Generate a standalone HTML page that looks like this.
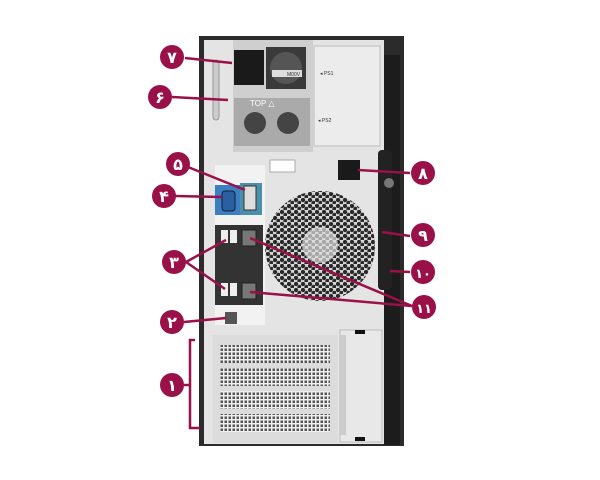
<!DOCTYPE html>
<html><head><meta charset="utf-8"><style>
html,body{margin:0;padding:0;background:#fff;width:600px;height:480px;overflow:hidden}
svg{display:block}
.b{fill:#9a1048}
.t{fill:#fff;font-family:"Liberation Sans","DejaVu Sans",sans-serif;font-weight:bold;font-size:16px;text-anchor:middle}
.l{stroke:#9a1048;stroke-width:2.5;fill:none}
.s{font-family:"Liberation Sans",sans-serif;font-size:5px;fill:#333}
</style></head><body>
<svg width="600" height="480" viewBox="0 0 600 480">
<defs>
<pattern id="hex" width="7" height="6" patternUnits="userSpaceOnUse">
<rect width="7" height="6" fill="#d8d8d8"/>
<circle cx="2" cy="2" r="2.2" fill="#2a2a2a"/>
<circle cx="5.5" cy="5" r="2.2" fill="#2a2a2a"/>
</pattern>
<pattern id="grid" width="4" height="4" patternUnits="userSpaceOnUse">
<rect width="4" height="4" fill="#eee"/>
<rect x="0.5" y="0.5" width="2.5" height="2.5" fill="#555"/>
</pattern>
</defs>
<!-- chassis -->
<rect x="199" y="36" width="205" height="410" fill="#2b2b2b"/>
<rect x="204" y="40" width="180" height="404" fill="#e4e4e4"/>
<rect x="384" y="55" width="16" height="390" fill="#1c1c1c"/>
<rect x="378" y="150" width="14" height="140" rx="4" fill="#222"/>
<circle cx="389" cy="183" r="5" fill="#777"/>
<!-- PSU area -->
<rect x="233" y="40" width="80" height="112" fill="#cfcfcf"/>
<rect x="314" y="46" width="66" height="100" fill="#ececec" stroke="#bbb"/>
<rect x="234" y="50" width="30" height="35" fill="#1a1a1a"/>
<rect x="266" y="47" width="40" height="42" fill="#3a3a3a"/>
<circle cx="286" cy="68" r="16" fill="#555"/>
<rect x="272" y="70" width="30" height="7" fill="#ddd"/>
<text x="287" y="76" class="s">M00V</text>
<text x="320" y="75" class="s">◂ PS1</text>
<rect x="234" y="98" width="76" height="48" fill="#aaa"/>
<text x="250" y="106" style="font-family:'Liberation Sans';font-size:8px;fill:#fff">TOP △</text>
<circle cx="255" cy="123" r="11" fill="#444"/>
<circle cx="288" cy="123" r="11" fill="#444"/>
<text x="318" y="122" class="s">◂ PS2</text>
<rect x="213" y="60" width="6" height="60" rx="3" fill="#ccc" stroke="#999"/>
<!-- IO panel -->
<rect x="215" y="165" width="50" height="160" fill="#f2f2f2"/>
<rect x="215" y="185" width="25" height="30" fill="#3b7ec2"/>
<rect x="240" y="183" width="22" height="32" fill="#4b8fa8"/>
<rect x="222" y="191" width="13" height="20" rx="3" fill="#2a5fa0" stroke="#123"/>
<rect x="244" y="186" width="12" height="24" fill="#ddd" stroke="#333"/>
<rect x="215" y="225" width="48" height="80" fill="#333"/>
<rect x="221" y="230" width="7" height="13" fill="#eee"/><rect x="230" y="230" width="7" height="13" fill="#eee"/>
<rect x="221" y="283" width="7" height="13" fill="#eee"/><rect x="230" y="283" width="7" height="13" fill="#eee"/>
<rect x="242" y="230" width="14" height="16" fill="#777" stroke="#222"/>
<rect x="242" y="283" width="14" height="16" fill="#777" stroke="#222"/>
<rect x="225" y="312" width="12" height="12" fill="#555"/>
<!-- fan -->
<circle cx="320" cy="246" r="55" fill="url(#hex)"/>
<circle cx="320" cy="245" r="18" fill="#ddd" opacity="0.7"/>
<rect x="338" y="160" width="22" height="20" fill="#1a1a1a"/>
<rect x="270" y="160" width="25" height="12" fill="#fff" stroke="#aaa"/>
<!-- PCI slots -->
<rect x="213" y="335" width="125" height="108" fill="#dcdcdc"/>
<rect x="220" y="345" width="110" height="18" fill="url(#grid)"/>
<rect x="220" y="368" width="110" height="18" fill="url(#grid)"/>
<rect x="220" y="391" width="110" height="18" fill="url(#grid)"/>
<rect x="220" y="414" width="110" height="18" fill="url(#grid)"/>
<rect x="340" y="330" width="42" height="112" fill="#e8e8e8" stroke="#bbb"/>
<rect x="340" y="335" width="6" height="100" fill="#ccc"/>
<rect x="355" y="330" width="10" height="4" fill="#111"/>
<rect x="355" y="437" width="10" height="4" fill="#111"/>
<!-- leader lines -->
<polyline class="l" points="185,58 232,63"/>
<polyline class="l" points="172,97 228,100"/>
<polyline class="l" points="188,167 245,190"/>
<polyline class="l" points="175,196 222,197"/>
<polyline class="l" points="186,262 226,240"/>
<polyline class="l" points="186,262 225,289"/>
<polyline class="l" points="184,322 226,318"/>
<polyline class="l" points="195,340 190,340 190,428 200,428"/>
<polyline class="l" points="184,385 190,385"/>
<polyline class="l" points="410,173 358,170"/>
<polyline class="l" points="410,236 382,232"/>
<polyline class="l" points="410,272 390,271"/>
<polyline class="l" points="412,306 250,238"/>
<polyline class="l" points="412,306 250,292"/>
<!-- badges -->
<g>
<circle class="b" cx="172" cy="57" r="12"/><text class="t" x="172" y="63">۷</text>
<circle class="b" cx="160" cy="97" r="12"/><text class="t" x="160" y="103">۶</text>
<circle class="b" cx="178" cy="164" r="12"/><text class="t" x="178" y="170">۵</text>
<circle class="b" cx="164" cy="196" r="12"/><text class="t" x="164" y="202">۴</text>
<circle class="b" cx="174" cy="262" r="12"/><text class="t" x="174" y="268">۳</text>
<circle class="b" cx="172" cy="322" r="12"/><text class="t" x="172" y="328">۲</text>
<circle class="b" cx="172" cy="385" r="12"/><text class="t" x="172" y="391">۱</text>
<circle class="b" cx="423" cy="173" r="12"/><text class="t" x="423" y="179">۸</text>
<circle class="b" cx="423" cy="235" r="12"/><text class="t" x="423" y="241">۹</text>
<circle class="b" cx="423" cy="272" r="12"/><text class="t" x="423" y="278" style="font-size:13px">۱۰</text>
<circle class="b" cx="424" cy="307" r="12"/><text class="t" x="424" y="313" style="font-size:13px">۱۱</text>
</g>
</svg>
</body></html>
